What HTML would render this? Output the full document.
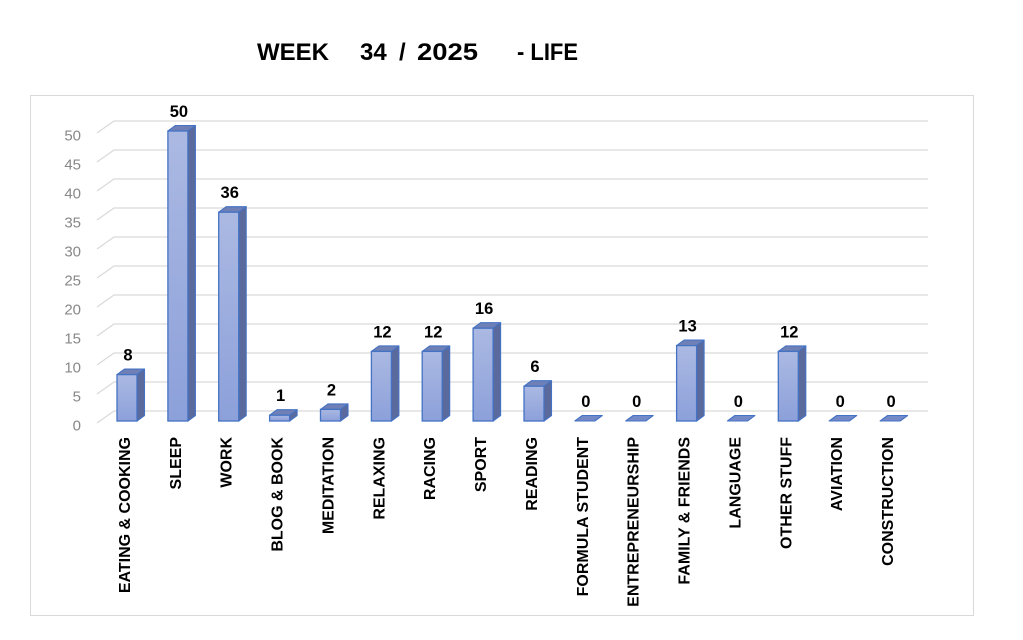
<!DOCTYPE html>
<html>
<head>
<meta charset="utf-8">
<style>
  html,body{margin:0;padding:0;background:#fff;}
  svg{display:block;}
  .yl{font-family:"Liberation Sans",sans-serif;font-size:15px;fill:#888888;text-anchor:end;}
  .vl{font-family:"Liberation Sans",sans-serif;font-size:16.5px;font-weight:bold;fill:#000;text-anchor:middle;}
  .cl{font-family:"Liberation Sans",sans-serif;font-size:16px;font-weight:bold;fill:#000;text-anchor:end;}
  .tt{font-family:"Liberation Sans",sans-serif;font-size:24px;font-weight:bold;fill:#000;}
  .fr{fill:url(#gf);stroke:#4472c4;stroke-width:1.3;}
  .sd{fill:#5b6a9c;stroke:#4472c4;stroke-width:1.1;stroke-linejoin:round;}
  .tp{fill:#6e80b6;stroke:#4472c4;stroke-width:1.1;stroke-linejoin:round;}
  .zr{fill:#7389c8;stroke:#4472c4;stroke-width:1.1;stroke-linejoin:round;}
</style>
</head>
<body>
<svg width="1023" height="640" viewBox="0 0 1023 640" xmlns="http://www.w3.org/2000/svg">
  <defs>
    <linearGradient id="gf" x1="0" y1="0" x2="0" y2="1">
      <stop offset="0" stop-color="#abb9e2"/>
      <stop offset="1" stop-color="#8ca0da"/>
    </linearGradient>
  </defs>

  <!-- title -->
  <text class="tt" x="257" y="60">WEEK</text>
  <text class="tt" x="360" y="60">34</text>
  <text class="tt" x="399" y="60">/</text>
  <text class="tt" x="417" y="60" textLength="61" lengthAdjust="spacingAndGlyphs">2025</text>
  <text class="tt" x="517" y="60" textLength="61" lengthAdjust="spacingAndGlyphs">- LIFE</text>

  <!-- outer border -->
  <rect x="30.5" y="95.5" width="943" height="520" fill="none" stroke="#d9d9d9" stroke-width="1"/>

  <!-- gridlines -->
  <g fill="none" stroke="#d9d9d9" stroke-width="1.2">
    <path d="M97,423 L114,411 L928,411"/>
    <path d="M97,394 L114,382 L928,382"/>
    <path d="M97,365 L114,353 L928,353"/>
    <path d="M97,336 L114,324 L928,324"/>
    <path d="M97,307 L114,295 L928,295"/>
    <path d="M97,278 L114,266 L928,266"/>
    <path d="M97,249 L114,237 L928,237"/>
    <path d="M97,220 L114,208 L928,208"/>
    <path d="M97,191 L114,179 L928,179"/>
    <path d="M97,162 L114,150 L928,150"/>
    <path d="M97,133 L114,121 L928,121"/>
  </g>

  <!-- y labels -->
  <text class="yl" x="81" y="430.5">0</text>
  <text class="yl" x="81" y="401.5">5</text>
  <text class="yl" x="81" y="372.5">10</text>
  <text class="yl" x="81" y="343.5">15</text>
  <text class="yl" x="81" y="314.5">20</text>
  <text class="yl" x="81" y="285.5">25</text>
  <text class="yl" x="81" y="256.5">30</text>
  <text class="yl" x="81" y="227.5">35</text>
  <text class="yl" x="81" y="198.5">40</text>
  <text class="yl" x="81" y="169.5">45</text>
  <text class="yl" x="81" y="140.5">50</text>

  <!-- bars -->
  <g transform="translate(117,374.6)">
    <polygon class="sd" points="20,0 27.5,-5.5 27.5,40.9 20,46.4"/>
    <polygon class="tp" points="0,0 7.5,-5.5 27.5,-5.5 20,0"/>
    <rect class="fr" x="0" y="0" width="20" height="46.4"/>
    <text class="vl" x="11" y="-14">8</text>
  </g>
  <g transform="translate(167.9,131)">
    <polygon class="sd" points="20,0 27.5,-5.5 27.5,284.5 20,290"/>
    <polygon class="tp" points="0,0 7.5,-5.5 27.5,-5.5 20,0"/>
    <rect class="fr" x="0" y="0" width="20" height="290"/>
    <text class="vl" x="11" y="-14">50</text>
  </g>
  <g transform="translate(218.7,212.2)">
    <polygon class="sd" points="20,0 27.5,-5.5 27.5,203.3 20,208.8"/>
    <polygon class="tp" points="0,0 7.5,-5.5 27.5,-5.5 20,0"/>
    <rect class="fr" x="0" y="0" width="20" height="208.8"/>
    <text class="vl" x="11" y="-14">36</text>
  </g>
  <g transform="translate(269.6,415.2)">
    <polygon class="sd" points="20,0 27.5,-5.5 27.5,0.3 20,5.8"/>
    <polygon class="tp" points="0,0 7.5,-5.5 27.5,-5.5 20,0"/>
    <rect class="fr" x="0" y="0" width="20" height="5.8"/>
    <text class="vl" x="11" y="-14">1</text>
  </g>
  <g transform="translate(320.5,409.4)">
    <polygon class="sd" points="20,0 27.5,-5.5 27.5,6.1 20,11.6"/>
    <polygon class="tp" points="0,0 7.5,-5.5 27.5,-5.5 20,0"/>
    <rect class="fr" x="0" y="0" width="20" height="11.6"/>
    <text class="vl" x="11" y="-14">2</text>
  </g>
  <g transform="translate(371.4,351.4)">
    <polygon class="sd" points="20,0 27.5,-5.5 27.5,64.1 20,69.6"/>
    <polygon class="tp" points="0,0 7.5,-5.5 27.5,-5.5 20,0"/>
    <rect class="fr" x="0" y="0" width="20" height="69.6"/>
    <text class="vl" x="11" y="-14">12</text>
  </g>
  <g transform="translate(422.2,351.4)">
    <polygon class="sd" points="20,0 27.5,-5.5 27.5,64.1 20,69.6"/>
    <polygon class="tp" points="0,0 7.5,-5.5 27.5,-5.5 20,0"/>
    <rect class="fr" x="0" y="0" width="20" height="69.6"/>
    <text class="vl" x="11" y="-14">12</text>
  </g>
  <g transform="translate(473.1,328.2)">
    <polygon class="sd" points="20,0 27.5,-5.5 27.5,87.3 20,92.8"/>
    <polygon class="tp" points="0,0 7.5,-5.5 27.5,-5.5 20,0"/>
    <rect class="fr" x="0" y="0" width="20" height="92.8"/>
    <text class="vl" x="11" y="-14">16</text>
  </g>
  <g transform="translate(524,386.2)">
    <polygon class="sd" points="20,0 27.5,-5.5 27.5,29.3 20,34.8"/>
    <polygon class="tp" points="0,0 7.5,-5.5 27.5,-5.5 20,0"/>
    <rect class="fr" x="0" y="0" width="20" height="34.8"/>
    <text class="vl" x="11" y="-14">6</text>
  </g>
  <g transform="translate(574.8,421)">
    <polygon class="zr" points="0,0 7.5,-5.5 27.5,-5.5 20,0"/>
    <text class="vl" x="11" y="-14">0</text>
  </g>
  <g transform="translate(625.7,421)">
    <polygon class="zr" points="0,0 7.5,-5.5 27.5,-5.5 20,0"/>
    <text class="vl" x="11" y="-14">0</text>
  </g>
  <g transform="translate(676.6,345.6)">
    <polygon class="sd" points="20,0 27.5,-5.5 27.5,69.9 20,75.4"/>
    <polygon class="tp" points="0,0 7.5,-5.5 27.5,-5.5 20,0"/>
    <rect class="fr" x="0" y="0" width="20" height="75.4"/>
    <text class="vl" x="11" y="-14">13</text>
  </g>
  <g transform="translate(727.4,421)">
    <polygon class="zr" points="0,0 7.5,-5.5 27.5,-5.5 20,0"/>
    <text class="vl" x="11" y="-14">0</text>
  </g>
  <g transform="translate(778.3,351.4)">
    <polygon class="sd" points="20,0 27.5,-5.5 27.5,64.1 20,69.6"/>
    <polygon class="tp" points="0,0 7.5,-5.5 27.5,-5.5 20,0"/>
    <rect class="fr" x="0" y="0" width="20" height="69.6"/>
    <text class="vl" x="11" y="-14">12</text>
  </g>
  <g transform="translate(829.2,421)">
    <polygon class="zr" points="0,0 7.5,-5.5 27.5,-5.5 20,0"/>
    <text class="vl" x="11" y="-14">0</text>
  </g>
  <g transform="translate(880.1,421)">
    <polygon class="zr" points="0,0 7.5,-5.5 27.5,-5.5 20,0"/>
    <text class="vl" x="11" y="-14">0</text>
  </g>

  <!-- category labels -->
  <text class="cl" transform="translate(130,437) rotate(-90)">EATING &amp; COOKING</text>
  <text class="cl" transform="translate(180.9,437) rotate(-90)">SLEEP</text>
  <text class="cl" transform="translate(231.7,437) rotate(-90)">WORK</text>
  <text class="cl" transform="translate(282.6,437) rotate(-90)">BLOG &amp; BOOK</text>
  <text class="cl" transform="translate(333.5,437) rotate(-90)">MEDITATION</text>
  <text class="cl" transform="translate(384.4,437) rotate(-90)">RELAXING</text>
  <text class="cl" transform="translate(435.2,437) rotate(-90)">RACING</text>
  <text class="cl" transform="translate(486.1,437) rotate(-90)">SPORT</text>
  <text class="cl" transform="translate(537,437) rotate(-90)">READING</text>
  <text class="cl" transform="translate(587.8,437) rotate(-90)">FORMULA STUDENT</text>
  <text class="cl" transform="translate(638.7,437) rotate(-90)">ENTREPRENEURSHIP</text>
  <text class="cl" transform="translate(689.6,437) rotate(-90)">FAMILY &amp; FRIENDS</text>
  <text class="cl" transform="translate(740.4,437) rotate(-90)">LANGUAGE</text>
  <text class="cl" transform="translate(791.3,437) rotate(-90)">OTHER STUFF</text>
  <text class="cl" transform="translate(842.2,437) rotate(-90)">AVIATION</text>
  <text class="cl" transform="translate(893.1,437) rotate(-90)">CONSTRUCTION</text>
</svg>
</body>
</html>
